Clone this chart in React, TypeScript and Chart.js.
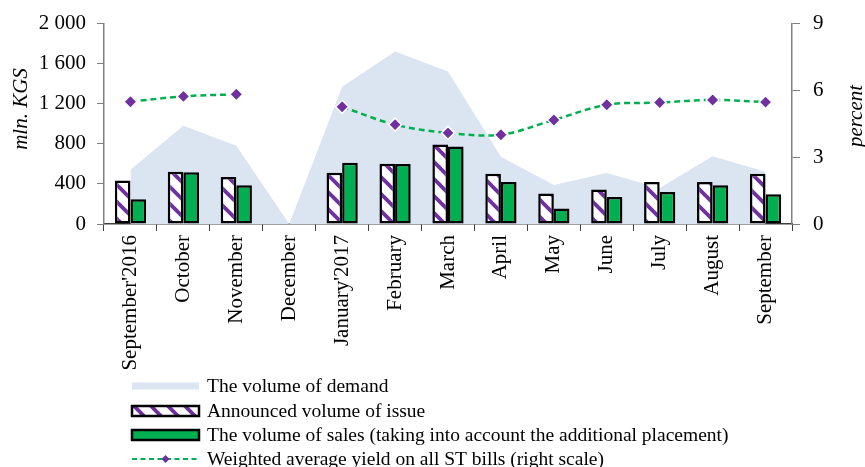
import React, { useEffect, useRef } from 'react';
import { Chart, registerables } from 'chart.js';

Chart.register(...registerables);

const categories = [
  "September'2016", 'October', 'November', 'December', "January'2017", 'February',
  'March', 'April', 'May', 'June', 'July', 'August', 'September',
];
const demand = [540, 980, 780, 0, 1370, 1720, 1520, 670, 390, 508, 360, 676, 520];
const announced = [435, 520, 470, 0, 512, 601, 792, 502, 304, 343, 419, 420, 502];
const sales = [248, 516, 386, 0, 611, 598, 772, 419, 155, 270, 320, 386, 297];
const yieldPct: (number | null)[] = [5.49, 5.73, 5.82, null, 5.26, 4.46, 4.09, 4.01, 4.67, 5.35, 5.45, 5.57, 5.47];
const leftTicks = [0, 400, 800, 1200, 1600, 2000];
const rightTicks = [0, 3, 6, 9];
const seriesLabels = [
  'The volume of demand',
  'Announced volume of issue',
  'The volume of sales (taking into account the additional placement)',
  'Weighted average yield on all ST bills (right scale)',
];
const leftTitle = 'mln. KGS';
const rightTitle = 'percent';

const FONT = "'Liberation Serif', 'Times New Roman', serif";
const DEMAND_COLOR = '#dbe4f1';
const PURPLE = '#7030a0';
const GREEN = '#00b050';

function makeStripePattern(ctx: CanvasRenderingContext2D): CanvasPattern | string {
  const size = 17;
  const c = document.createElement('canvas');
  c.width = size;
  c.height = size;
  const p = c.getContext('2d');
  if (!p) return '#ffffff';
  p.fillStyle = '#ffffff';
  p.fillRect(0, 0, size, size);
  p.strokeStyle = PURPLE;
  p.lineWidth = 3.8;
  for (const k of [-size, 0, size]) {
    p.beginPath();
    p.moveTo(k - 2, -2);
    p.lineTo(k + size + 2, size + 2);
    p.stroke();
  }
  return ctx.createPattern(c, 'repeat') || '#ffffff';
}

function fmtThousands(v: number): string {
  const s = String(Math.round(v));
  return s.replace(/\B(?=(\d{3})+(?!\d))/g, ' ');
}

export default function App() {
  const canvasRef = useRef<HTMLCanvasElement | null>(null);

  useEffect(() => {
    document.body.style.margin = '0';
    const canvas = canvasRef.current;
    if (!canvas) return;
    const ctx = canvas.getContext('2d');
    if (!ctx) return;
    const pattern = makeStripePattern(ctx);

    const overlayPlugin = {
      id: 'overlay',
      afterDraw(chart: any) {
        const c: CanvasRenderingContext2D = chart.ctx;
        const ds = chart.data.datasets;
        c.save();
        // axis titles
        c.fillStyle = '#000';
        c.font = `italic 21px ${FONT}`;
        c.textAlign = 'center';
        c.textBaseline = 'middle';
        c.save();
        c.translate(21, 109);
        c.rotate(-Math.PI / 2);
        c.fillText(leftTitle, 0, 0);
        c.restore();
        c.save();
        c.translate(856, 116);
        c.rotate(-Math.PI / 2);
        c.fillText(rightTitle, 0, 0);
        c.restore();

        // legend
        const x0 = 132;
        const x1 = 199;
        const tx = 207;
        const rows = [386, 411, 435, 459];
        c.font = `19.5px ${FONT}`;
        c.textAlign = 'left';
        c.textBaseline = 'middle';
        // demand
        c.fillStyle = DEMAND_COLOR;
        c.fillRect(x0, rows[0] - 3.5, x1 - x0, 7);
        // announced
        c.fillStyle = pattern as any;
        c.fillRect(x0, rows[1] - 5, x1 - x0, 10);
        c.lineWidth = 2.5;
        c.strokeStyle = '#000';
        c.strokeRect(x0, rows[1] - 5, x1 - x0, 10);
        // sales
        c.fillStyle = GREEN;
        c.fillRect(x0, rows[2] - 5, x1 - x0, 10);
        c.strokeRect(x0, rows[2] - 5, x1 - x0, 10);
        // yield
        c.strokeStyle = GREEN;
        c.lineWidth = 2;
        c.setLineDash([5, 3.5]);
        c.beginPath();
        c.moveTo(x0, rows[3]);
        c.lineTo(x1, rows[3]);
        c.stroke();
        c.setLineDash([]);
        const mx = (x0 + x1) / 2;
        c.fillStyle = PURPLE;
        c.beginPath();
        c.moveTo(mx, rows[3] - 4);
        c.lineTo(mx + 4, rows[3]);
        c.lineTo(mx, rows[3] + 4);
        c.lineTo(mx - 4, rows[3]);
        c.closePath();
        c.fill();
        c.fillStyle = '#000';
        for (let i = 0; i < 4; i++) {
          c.fillText(ds[i].label, tx, rows[i] + 1);
        }
        c.restore();
      },
    };

    const chart = new Chart(canvas, {
      type: 'bar',
      data: {
        labels: categories,
        datasets: [
          {
            type: 'line',
            label: seriesLabels[0],
            data: demand,
            yAxisID: 'y',
            fill: 'origin',
            backgroundColor: DEMAND_COLOR,
            borderColor: DEMAND_COLOR,
            borderWidth: 0,
            pointRadius: 0,
            tension: 0,
            order: 3,
          } as any,
          {
            type: 'bar',
            label: seriesLabels[1],
            data: announced,
            yAxisID: 'y',
            backgroundColor: pattern as any,
            borderColor: '#000',
            borderWidth: 2.5,
            borderSkipped: false,
            categoryPercentage: 0.59,
            barPercentage: 1,
            order: 2,
          } as any,
          {
            type: 'bar',
            label: seriesLabels[2],
            data: sales,
            yAxisID: 'y',
            backgroundColor: GREEN,
            borderColor: '#000',
            borderWidth: 2.5,
            borderSkipped: false,
            categoryPercentage: 0.59,
            barPercentage: 1,
            order: 2,
          } as any,
          {
            type: 'line',
            label: seriesLabels[3],
            data: yieldPct,
            yAxisID: 'y1',
            borderColor: GREEN,
            borderWidth: 2.5,
            borderDash: [6, 4],
            spanGaps: false,
            tension: 0.35,
            fill: false,
            pointStyle: 'rectRot',
            pointRadius: 6.5,
            pointBackgroundColor: PURPLE,
            pointBorderColor: '#ffffff',
            pointBorderWidth: 1.5,
            order: 0,
          } as any,
        ],
      },
      options: {
        responsive: false,
        animation: false,
        devicePixelRatio: 1,
        layout: { padding: { top: 22, left: 0, right: 0, bottom: 0 } },
        plugins: {
          legend: { display: false },
          tooltip: { enabled: false },
        },
        scales: {
          x: {
            offset: true,
            grid: {
              offset: true,
              drawOnChartArea: false,
              drawTicks: true,
              tickLength: 7,
              color: '#404040',
            },
            border: { display: true, color: '#404040', width: 1.5 },
            ticks: {
              minRotation: 90,
              maxRotation: 90,
              autoSkip: false,
              padding: 4,
              color: '#000',
              font: { family: FONT, size: 21 },
            },
            afterFit(scale: any) {
              scale.height = 243;
            },
          },
          y: {
            position: 'left',
            min: 0,
            max: 2000,
            afterBuildTicks(scale: any) {
              scale.ticks = leftTicks.map((v) => ({ value: v }));
            },
            grid: {
              drawOnChartArea: false,
              drawTicks: true,
              tickLength: 7,
              color: '#808080',
            },
            border: { display: true, color: '#808080', width: 1.5 },
            ticks: {
              padding: 11,
              color: '#000',
              font: { family: FONT, size: 21, lineHeight: 1 },
              callback: (v: any) => fmtThousands(Number(v)),
            },
            afterFit(scale: any) {
              scale.width = 104;
            },
          },
          y1: {
            position: 'right',
            min: 0,
            max: 9,
            afterBuildTicks(scale: any) {
              scale.ticks = rightTicks.map((v) => ({ value: v }));
            },
            grid: {
              drawOnChartArea: false,
              drawTicks: true,
              tickLength: 8,
              color: '#808080',
            },
            border: { display: true, color: '#808080', width: 1.5 },
            ticks: {
              padding: 13,
              color: '#000',
              font: { family: FONT, size: 21, lineHeight: 1 },
            },
            afterFit(scale: any) {
              scale.width = 73;
            },
          },
        },
      } as any,
      plugins: [overlayPlugin],
    });

    return () => {
      chart.destroy();
    };
  }, []);

  return (
    <div style={{ position: 'absolute', left: 0, top: 0, width: 865, height: 467, background: '#fff' }}>
      <canvas ref={canvasRef} width={865} height={467} style={{ display: 'block' }} />
    </div>
  );
}
